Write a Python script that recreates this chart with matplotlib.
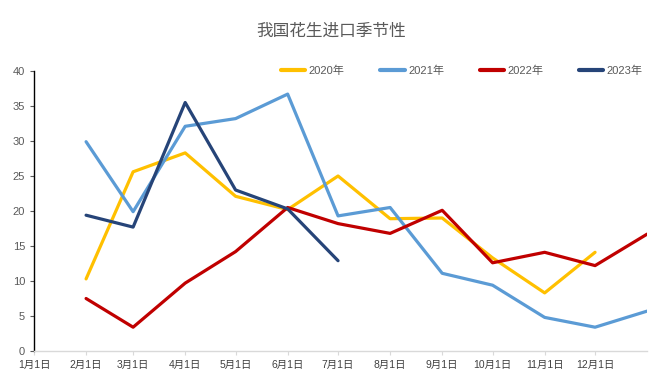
import matplotlib
matplotlib.use("Agg")
import matplotlib.pyplot as plt
import datetime as dt

plt.rcParams['font.family'] = ['Liberation Sans', 'Noto Sans CJK SC', 'DejaVu Sans']

# Data (x positions are the 1st of each month; 13 = the following Jan 1)
month_points = [2, 3, 4, 5, 6, 7, 8, 9, 10, 11, 12, 13]
tick_labels = ["1月1日", "2月1日", "3月1日", "4月1日", "5月1日", "6月1日",
               "7月1日", "8月1日", "9月1日", "10月1日", "11月1日", "12月1日"]
y2020 = [10.3, 25.6, 28.3, 22.1, 20.2, 25.0, 18.9, 19.0, 13.3, 8.3, 14.1]
y2021 = [29.9, 19.9, 32.1, 33.2, 36.7, 19.3, 20.5, 11.1, 9.4, 4.8, 3.4, 5.7]
y2022 = [7.5, 3.4, 9.7, 14.2, 20.5, 18.2, 16.8, 20.1, 12.6, 14.1, 12.2, 16.7]
y2023 = [19.4, 17.7, 35.5, 23.0, 20.3, 12.9]

series = [("2020年", y2020, "#FFC000"),
          ("2021年", y2021, "#5B9BD5"),
          ("2022年", y2022, "#C00000"),
          ("2023年", y2023, "#264478")]

def to_date(m):
    if m == 13:
        return dt.date(2022, 1, 1)
    return dt.date(2021, m, 1)

fig = plt.figure(figsize=(6.59, 3.85), dpi=100)
ax = fig.add_axes([0.0516, 0.0883, 0.9304, 0.7273])

for name, vals, col in series:
    xs = [to_date(m) for m in month_points[:len(vals)]]
    ax.plot(xs, vals, color=col, lw=2.3, label=name, solid_capstyle='round',
            solid_joinstyle='round')

ax.set_ylim(0, 40)
ax.set_yticks(range(0, 41, 5))
ax.set_xlim(dt.date(2021, 1, 1), dt.date(2022, 1, 1))
ticks = [dt.date(2021, m, 1) for m in range(1, 13)]
ax.set_xticks(ticks)
ax.set_xticklabels(tick_labels)

for s in ['top', 'right']:
    ax.spines[s].set_visible(False)
ax.spines['left'].set_color('black')
ax.spines['left'].set_linewidth(1.0)
ax.spines['bottom'].set_color('#D9D9D9')
ax.spines['bottom'].set_linewidth(1.0)
ax.tick_params(axis='y', colors='#595959', labelsize=8, length=3, width=0.8)
ax.tick_params(axis='x', colors='#404040', labelsize=7.5, length=3, color='#D9D9D9')

fig.text(0.503, 0.92, "我国花生进口季节性", ha='center', va='center', fontsize=12,
         color='#595959', family=['Noto Sans CJK SC'])

leg = ax.legend(loc='center right', bbox_to_anchor=(1.0, 1.0), ncol=4, frameon=False,
                fontsize=8, handlelength=2.2, columnspacing=3.2, handletextpad=0.3,
                borderaxespad=0)
for t in leg.get_texts():
    t.set_color('#595959')
for l in leg.get_lines():
    l.set_linewidth(3)

fig.savefig("out.png", dpi=100)
